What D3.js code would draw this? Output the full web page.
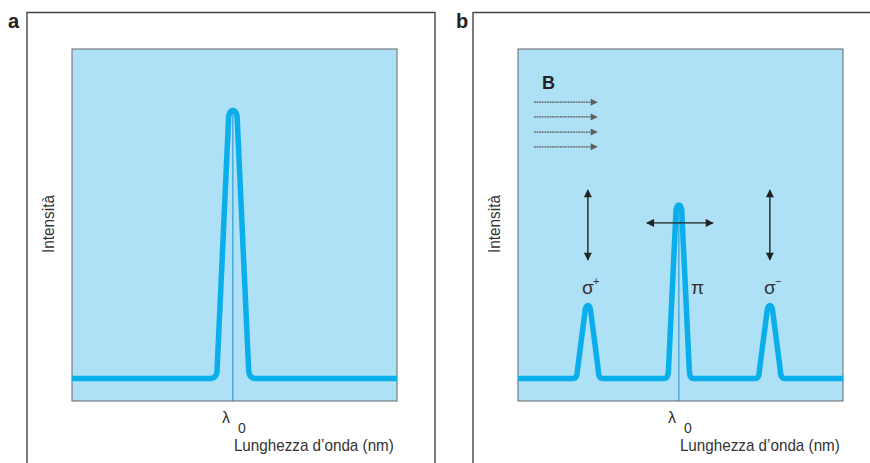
<!DOCTYPE html>
<html>
<head>
<meta charset="utf-8">
<script src="https://cdn.jsdelivr.net/npm/d3@7"></script>
<style>
  html, body { margin: 0; padding: 0; background: #fff; }
  svg { display: block; }
  text { font-family: "Liberation Sans Narrow", "Arial Narrow", "Liberation Sans", Arial, sans-serif; fill: #333; }
</style>
</head>
<body>
<div id="chart"></div>
<script>
// Dati (unità arbitrarie: Δλ rispetto a λ0, intensità 0-100)
const lambdaDomain = [-4.95, 5.05];
const intensityDomain = [0, 100];

// Pannello a: riga singola
const profileAx = [-4.95, -0.677, -0.6, -0.532, -0.498, -0.486, -0.129, -0.092, -0.046, 0,
  0.046, 0.092, 0.129, 0.486, 0.498, 0.532, 0.6, 0.677, 5.05];
const profileAy = [6.39, 6.39, 6.59, 7.10, 7.81, 8.81, 80.97, 81.96, 82.44, 82.59,
  82.44, 81.96, 80.97, 8.81, 7.81, 7.10, 6.59, 6.39, 6.39];

// Pannello b: tripletto Zeeman (σ+, π, σ−)
const profileBx = [-4.95,
  -3.246, -3.185, -3.148, -3.129, -3.12, -2.88, -2.855, -2.828, -2.8, -2.772, -2.745, -2.72, -2.48, -2.471, -2.452, -2.415, -2.354,
  -0.446, -0.385, -0.348, -0.329, -0.32, -0.086, -0.062, -0.031, 0, 0.031, 0.062, 0.086, 0.32, 0.329, 0.348, 0.385, 0.446,
  2.354, 2.415, 2.452, 2.471, 2.48, 2.72, 2.745, 2.772, 2.8, 2.828, 2.855, 2.88, 3.12, 3.129, 3.148, 3.185, 3.246,
  5.05];
const profileBy = [6.39,
  6.39, 6.59, 7.10, 7.81, 8.81, 25.99, 26.7, 27.05, 27.13, 27.05, 26.7, 25.99, 8.81, 7.81, 7.10, 6.59, 6.39,
  6.39, 6.59, 7.10, 7.81, 8.81, 54.4, 55.11, 55.57, 55.68, 55.57, 55.11, 54.4, 8.81, 7.81, 7.10, 6.59, 6.39,
  6.39, 6.59, 7.10, 7.81, 8.81, 25.99, 26.7, 27.05, 27.13, 27.05, 26.7, 25.99, 8.81, 7.81, 7.10, 6.59, 6.39,
  6.39];

const componentNames = ['σ', 'π', 'σ'];
const componentSup = ['+', '', '−'];
const componentPos = [-2.8, 0, 2.8];
// polarizzazione: 'v' verticale, 'h' orizzontale
const componentPol = ['v', 'h', 'v'];

// frecce del campo B (intensità in unità dell'asse y)
const fieldArrowLevels = [84.9, 80.7, 76.4, 72.2];
const fieldArrowRange = [-4.46, -2.52];

const width = 870, height = 463;
const cyan = '#0aaeea';
const bg = '#aee0f6';

const svg = d3.select('#chart').append('svg')
  .attr('width', width)
  .attr('height', height);

const defs = svg.append('defs');
defs.append('marker')
  .attr('id', 'headBlack')
  .attr('viewBox', '0 0 10 10')
  .attr('refX', 9).attr('refY', 5)
  .attr('markerWidth', 10).attr('markerHeight', 8)
  .attr('markerUnits', 'userSpaceOnUse')
  .attr('orient', 'auto-start-reverse')
  .append('path').attr('d', 'M0,0 L10,5 L0,10 Z').attr('fill', '#222');
defs.append('marker')
  .attr('id', 'headGray')
  .attr('viewBox', '0 0 10 10')
  .attr('refX', 9).attr('refY', 5)
  .attr('markerWidth', 13).attr('markerHeight', 7)
  .attr('markerUnits', 'userSpaceOnUse')
  .attr('orient', 'auto')
  .append('path').attr('d', 'M0,0 L10,5 L0,10 Z').attr('fill', '#5f5f5f');

// Disegna un pannello
function drawPanel(opts) {
  const { letter, frameX, plotX, profX, profY, labelX } = opts;
  const plotW = 325, plotTop = 49, plotBottom = 401;

  const x = d3.scaleLinear().domain(lambdaDomain).range([plotX, plotX + plotW]);
  const y = d3.scaleLinear().domain(intensityDomain).range([plotBottom, plotTop]);

  // cornice esterna (esce dall'immagine in basso)
  svg.append('path')
    .attr('d', `M${frameX},${height + 5} V12.5 H${frameX + 408} V${height + 5}`)
    .attr('fill', 'none')
    .attr('stroke', '#444')
    .attr('stroke-width', 1.4);

  svg.append('text')
    .attr('x', letter === 'a' ? 8 : 456)
    .attr('y', 28)
    .attr('font-size', 20)
    .attr('font-weight', 'bold')
    .style('fill', '#222')
    .text(letter);

  const g = svg.append('g');

  g.append('rect')
    .attr('x', plotX).attr('y', plotTop)
    .attr('width', plotW).attr('height', plotBottom - plotTop)
    .attr('fill', bg)
    .attr('stroke', '#666')
    .attr('stroke-width', 1);

  // linea di λ0
  const peakTop = d3.max(profY.filter((v, i) => profX[i] === 0));
  g.append('line')
    .attr('x1', x(0)).attr('x2', x(0))
    .attr('y1', y(peakTop)).attr('y2', plotBottom)
    .attr('stroke', '#1590d0')
    .attr('stroke-width', 1);

  const line = d3.line()
    .x(i => x(profX[i]))
    .y(i => y(profY[i]))
    .curve(d3.curveLinear);

  g.append('path')
    .attr('d', line(d3.range(profX.length)))
    .attr('fill', 'none')
    .attr('stroke', cyan)
    .attr('stroke-width', 5.5)
    .attr('stroke-linejoin', 'round')
    .attr('stroke-linecap', 'butt');

  // etichette assi
  g.append('text')
    .attr('transform', `translate(${labelX},224) rotate(-90)`)
    .attr('text-anchor', 'middle')
    .attr('font-size', 16)
    .attr('textLength', 58)
    .attr('lengthAdjust', 'spacingAndGlyphs')
    .text('Intensità');

  g.append('text')
    .attr('x', x(0) - 11)
    .attr('y', 423)
    .attr('font-size', 16)
    .text('λ');
  g.append('text')
    .attr('x', x(0) + 5)
    .attr('y', 433)
    .attr('font-size', 14)
    .text('0');

  g.append('text')
    .attr('x', x(0) + 1)
    .attr('y', 451)
    .attr('font-size', 17)
    .attr('textLength', 160)
    .attr('lengthAdjust', 'spacingAndGlyphs')
    .text('Lunghezza d’onda (nm)');

  return { g, x, y };
}

drawPanel({ letter: 'a', frameX: 27, plotX: 72, profX: profileAx, profY: profileAy, labelX: 54 });
const pb = drawPanel({ letter: 'b', frameX: 473, plotX: 518, profX: profileBx, profY: profileBy, labelX: 500 });

// campo magnetico B
pb.g.append('text')
  .attr('x', pb.x(fieldArrowRange[0]) + 8)
  .attr('y', 89)
  .attr('font-size', 18)
  .attr('font-weight', 'bold')
  .style('fill', '#222')
  .text('B');

pb.g.selectAll('.field')
  .data(fieldArrowLevels)
  .join('line')
  .attr('class', 'field')
  .attr('x1', pb.x(fieldArrowRange[0]))
  .attr('x2', pb.x(fieldArrowRange[1]))
  .attr('y1', d => pb.y(d))
  .attr('y2', d => pb.y(d))
  .attr('stroke', '#5f5f5f')
  .attr('stroke-width', 1.3)
  .attr('stroke-dasharray', '2 0.6')
  .attr('marker-end', 'url(#headGray)');

// frecce di polarizzazione
componentPos.forEach((p, i) => {
  const cx = pb.x(p);
  if (componentPol[i] === 'v') {
    pb.g.append('line')
      .attr('x1', cx).attr('x2', cx)
      .attr('y1', pb.y(59.9)).attr('y2', pb.y(40.1))
      .attr('stroke', '#222').attr('stroke-width', 1.4)
      .attr('marker-start', 'url(#headBlack)')
      .attr('marker-end', 'url(#headBlack)');
  } else {
    pb.g.append('line')
      .attr('x1', cx - 32).attr('x2', cx + 34)
      .attr('y1', pb.y(50.6)).attr('y2', pb.y(50.6))
      .attr('stroke', '#222').attr('stroke-width', 1.4)
      .attr('marker-start', 'url(#headBlack)')
      .attr('marker-end', 'url(#headBlack)');
  }
});

// etichette σ+, π, σ−
componentNames.forEach((name, i) => {
  const cx = pb.x(componentPos[i]);
  const isPi = componentPol[i] === 'h';
  pb.g.append('text')
    .attr('x', isPi ? cx + 12 : cx - 6)
    .attr('y', 294)
    .attr('font-size', 19)
    .style('font-family', '"Liberation Sans", Arial, sans-serif')
    .text(name);
  if (componentSup[i]) {
    pb.g.append('text')
      .attr('x', cx + 5)
      .attr('y', 285)
      .attr('font-size', 11)
      .style('font-family', '"Liberation Sans", Arial, sans-serif')
      .text(componentSup[i]);
  }
});
</script>
</body>
</html>
